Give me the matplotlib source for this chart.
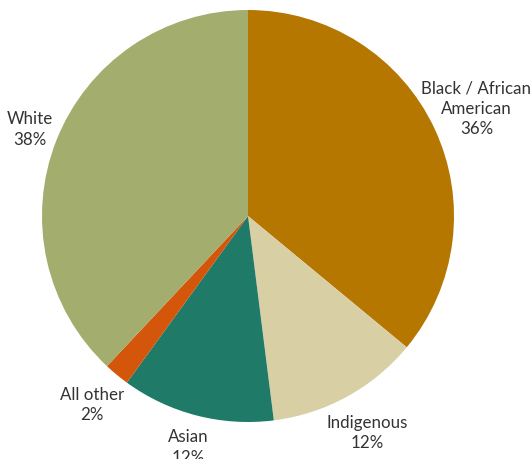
import matplotlib
matplotlib.use("Agg")
import matplotlib.pyplot as plt
import numpy as np

categories = ["Black / African\nAmerican", "Indigenous", "Asian", "All other", "White"]
values = [36, 12, 12, 2, 38]
colors = ["#B57700", "#D9CFA5", "#1F7A67", "#D4560A", "#A3AD6D"]
label_dist = [1.225, 1.20, 1.16, 1.19, 1.14]

plt.rcParams['font.family'] = ['Lato', 'DejaVu Sans']

fig = plt.figure(figsize=(5.32, 4.59), dpi=100)
ax = fig.add_axes([0, 0, 1, 1])

cx, cy, r = 248, 243, 206
wedges, _ = ax.pie(values, colors=colors, startangle=90, counterclock=False,
                   center=(cx, cy), radius=r)
for w, c, v, d in zip(wedges, categories, values, label_dist):
    ang = np.deg2rad((w.theta1 + w.theta2) / 2)
    ax.text(cx + d * r * np.cos(ang), cy + d * r * np.sin(ang), f"{c}\n{v}%",
            ha="center", va="center", fontsize=12.2, color="#333333", linespacing=1.32)

ax.set_xlim(0, 532)
ax.set_ylim(0, 459)
ax.set_aspect("equal")
ax.axis("off")

fig.savefig("out.png", dpi=100)
